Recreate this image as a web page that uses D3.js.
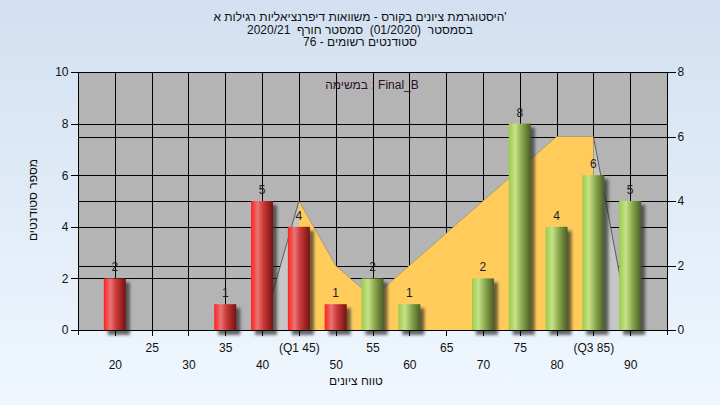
<!DOCTYPE html>
<html>
<head>
<meta charset="utf-8">
<script src="https://cdn.jsdelivr.net/npm/d3@7"></script>
<style>
html,body{margin:0;padding:0;width:720px;height:405px;overflow:hidden;}
text{font-family:"Liberation Sans",Arial,sans-serif;white-space:pre;}
</style>
</head>
<body>
<svg id="c" width="720" height="405"></svg>
<script>
const titleLines = ["היסטוגרמת ציונים בקורס - משוואות דיפרנציאליות רגילות א'", "בסמסטר  (01/2020)  סמסטר חורף  2020/21", "סטודנטים רשומים - 76"];
const legendText = "במשימה : Final_B";
const yTitle = "מספר סטודנטים";
const xTitle = "טווח ציונים";
const categories = [20,25,30,35,40,45,50,55,60,65,70,75,80,85,90];
const tickLabels = ["20","25","30","35","40","(Q1 45)","50","55","60","65","70","75","80","(Q3 85)","90"];
const counts = [2,0,0,1,5,4,1,2,1,0,2,8,4,6,5];
const barTone = ["red","red","red","red","red","red","red","green","green","green","green","green","green","green","green"];
const curveCats = [40,45,50,55,60,65,70,75,80,85,90];
const curveValues = [0,4,2,1,2,3,4,5,6,6,0];
const q1 = 45, q3 = 85;
const leftTicks = [0,2,4,6,8,10];
const rightTicks = [0,2,4,6,8];

const svg = d3.select("#c");
const L = 78, R = 667, T = 72, B = 330;

const defs = svg.append("defs");
const bg = defs.append("linearGradient").attr("id","bg").attr("x1",0).attr("y1",0).attr("x2",0).attr("y2",1);
bg.append("stop").attr("offset","0%").attr("stop-color","#d2e0f1");
bg.append("stop").attr("offset","100%").attr("stop-color","#f0f7fe");
const gr = defs.append("linearGradient").attr("id","g-red").attr("x1",0).attr("x2",1).attr("y1",0).attr("y2",0);
[["0%","#ff2020"],["30%","#ea7474"],["55%","#cc3a3a"],["100%","#761212"]].forEach(s=>gr.append("stop").attr("offset",s[0]).attr("stop-color",s[1]));
const gg = defs.append("linearGradient").attr("id","g-green").attr("x1",0).attr("x2",1).attr("y1",0).attr("y2",0);
[["0%","#9ccb48"],["30%","#c6e28a"],["60%","#8aa84c"],["100%","#4a5e26"]].forEach(s=>gg.append("stop").attr("offset",s[0]).attr("stop-color",s[1]));
const f = defs.append("filter").attr("id","blur").attr("x","-50%").attr("y","-50%").attr("width","200%").attr("height","200%");
f.append("feGaussianBlur").attr("stdDeviation",1.8);

svg.append("rect").attr("width",720).attr("height",405).attr("fill","url(#bg)");
svg.append("rect").attr("x",L).attr("y",T).attr("width",R-L).attr("height",B-T).attr("fill","#b4b4b4");

const x = d3.scalePoint().domain(categories).range([L,R]).padding(1);
const yL = d3.scaleLinear().domain([0,10]).range([B,T]);
const yR = d3.scaleLinear().domain([0,8]).range([B,T]);

// grid
const grid = svg.append("g").attr("stroke","#000").attr("stroke-width",1).attr("shape-rendering","crispEdges");
leftTicks.filter(v=>v>0).forEach(v=>grid.append("line").attr("x1",L).attr("x2",R).attr("y1",Math.round(yL(v))+0.5).attr("y2",Math.round(yL(v))+0.5));
rightTicks.filter(v=>v>0&&v<8).forEach(v=>grid.append("line").attr("x1",L).attr("x2",R).attr("y1",Math.round(yR(v))+0.5).attr("y2",Math.round(yR(v))+0.5));
categories.forEach(c=>grid.append("line").attr("x1",Math.round(x(c))+0.5).attr("x2",Math.round(x(c))+0.5).attr("y1",T).attr("y2",B));

// curve area
const curveData = curveCats.map((c,i)=>({c, v:curveValues[i]}));
const area = d3.area().x(d=>x(d.c)).y0(B).y1(d=>yR(d.v));
const line = d3.line().x(d=>x(d.c)).y(d=>yR(d.v));
defs.append("clipPath").attr("id","iqr").append("rect").attr("x",x(q1)).attr("y",T).attr("width",x(q3)-x(q1)).attr("height",B-T);
const sides = defs.append("clipPath").attr("id","sides");
sides.append("rect").attr("x",L).attr("y",T).attr("width",x(q1)-L).attr("height",B-T);
sides.append("rect").attr("x",x(q3)).attr("y",T).attr("width",R-x(q3)).attr("height",B-T);
svg.append("path").datum(curveData).attr("d",area).attr("fill","#c6c6c6").attr("clip-path","url(#sides)");
svg.append("path").datum(curveData).attr("d",area).attr("fill","#ffcc5c").attr("clip-path","url(#iqr)");
svg.append("path").datum(curveData).attr("d",line).attr("fill","none").attr("stroke","#5a5a5a").attr("stroke-width",1).attr("clip-path","url(#sides)");
svg.append("path").datum(curveData).attr("d",line).attr("fill","none").attr("stroke","#8a7a55").attr("stroke-opacity",0.5).attr("stroke-width",1).attr("clip-path","url(#iqr)");

// bars
const bw = 22;
const barData = categories.map((c,i)=>({c, v:counts[i], tone:barTone[i]})).filter(d=>d.v>0);
svg.append("g").selectAll("rect").data(barData).join("rect")
  .attr("x",d=>x(d.c)-bw/2+4).attr("y",d=>yL(d.v)+4).attr("width",bw).attr("height",d=>B-yL(d.v)+1)
  .attr("fill","#222").attr("opacity",0.65).attr("filter","url(#blur)");
svg.append("g").selectAll("rect").data(barData).join("rect")
  .attr("x",d=>x(d.c)-bw/2).attr("y",d=>yL(d.v)).attr("width",bw).attr("height",d=>B-yL(d.v))
  .attr("fill",d=>d.tone==="red"?"url(#g-red)":"url(#g-green)");
svg.append("g").selectAll("text").data(barData).join("text")
  .attr("x",d=>x(d.c)).attr("y",d=>yL(d.v)-7).attr("text-anchor","middle")
  .attr("font-size",12).attr("fill","#1a1a2a").text(d=>d.v);

// axes
const axG = svg.append("g").attr("stroke","#000").attr("stroke-width",1).attr("shape-rendering","crispEdges");
axG.append("line").attr("x1",L+0.5).attr("x2",L+0.5).attr("y1",T).attr("y2",B+5);
axG.append("line").attr("x1",R+0.5).attr("x2",R+0.5).attr("y1",T).attr("y2",B+5);
axG.append("line").attr("x1",L).attr("x2",R+1).attr("y1",B+0.5).attr("y2",B+0.5);
axG.append("line").attr("x1",L).attr("x2",R).attr("y1",T+0.5).attr("y2",T+0.5);

const la = svg.append("g").attr("transform",`translate(${L+0.5},0)`).call(d3.axisLeft(yL).tickValues(leftTicks).tickSize(8).tickPadding(2).tickFormat(d3.format("d")));
const ra = svg.append("g").attr("transform",`translate(${R+0.5},0)`).call(d3.axisRight(yR).tickValues(rightTicks).tickSize(8).tickPadding(2).tickFormat(d3.format("d")));
const xa = svg.append("g").attr("transform",`translate(0,${B+0.5})`).call(d3.axisBottom(x).tickSize(5).tickFormat((d,i)=>tickLabels[i]));
[la,ra,xa].forEach(g=>{g.select(".domain").remove();g.selectAll("line").attr("stroke","#000").attr("shape-rendering","crispEdges");g.selectAll("text").attr("font-size",12).attr("fill","#111").attr("font-family","Liberation Sans, Arial, sans-serif");});
xa.selectAll(".tick text").attr("dy",null).attr("y",(d,i)=>i%2===1?21:38);

// titles
titleLines.forEach((t,i)=>svg.append("text").attr("x",360).attr("y",21+i*12.5).attr("text-anchor","middle").attr("font-size",12).attr("fill","#111").text(t));
svg.append("text").attr("x",372).attr("y",89).attr("text-anchor","middle").attr("font-size",12).attr("fill","#2a102a").text(legendText);
svg.append("text").attr("transform","translate(37,200) rotate(-90)").attr("text-anchor","middle").attr("font-size",12).attr("fill","#111").text(yTitle);
svg.append("text").attr("x",356).attr("y",385).attr("text-anchor","middle").attr("font-size",12).attr("fill","#111").text(xTitle);
</script>
</body>
</html>
